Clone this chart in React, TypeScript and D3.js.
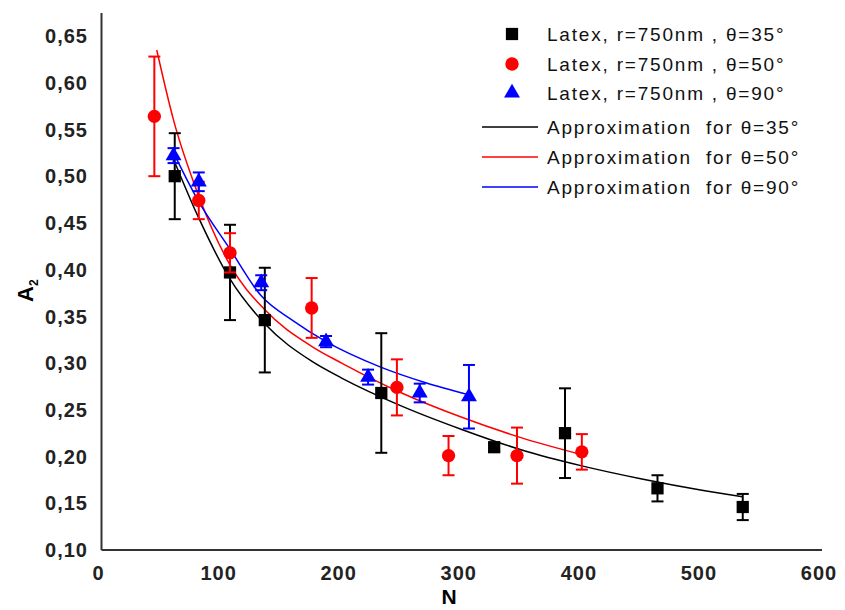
import React, { useEffect, useRef } from "react"
import * as d3 from "d3"

// measured points, theta = 35 / 50 / 90
const blackN = [61, 107, 136, 233, 327, 386, 463, 534]
const blackA = [0.5, 0.397, 0.346, 0.268, 0.21, 0.225, 0.166, 0.146]
const blackErr = [0.046, 0.051, 0.056, 0.064, 0.004, 0.048, 0.014, 0.014]

const redN = [44, 81, 107, 175, 246, 289, 346, 400]
const redA = [0.564, 0.474, 0.418, 0.359, 0.274, 0.201, 0.201, 0.205]
const redErr = [0.064, 0.02, 0.021, 0.032, 0.03, 0.021, 0.03, 0.019]

const blueN = [60, 81, 133, 187, 222, 265, 306]
const blueA = [0.522, 0.494, 0.386, 0.323, 0.285, 0.268, 0.264]
const blueErr = [0.008, 0.01, 0.008, 0.006, 0.008, 0.01, 0.034]

// approximation curves
const fitN35 = [61, 80, 107, 136, 175, 200, 250, 300, 350, 400, 450, 500, 534]
const fitA35 = [0.515, 0.458, 0.39, 0.342, 0.302, 0.284, 0.254, 0.229, 0.207, 0.19, 0.176, 0.164, 0.157]
const fitN50 = [46, 60, 80, 107, 136, 175, 200, 250, 300, 350, 400]
const fitA50 = [0.635, 0.56, 0.482, 0.405, 0.357, 0.318, 0.3, 0.268, 0.242, 0.22, 0.202]
const fitN90 = [60, 80, 107, 133, 160, 187, 232, 270, 306]
const fitA90 = [0.525, 0.475, 0.422, 0.372, 0.345, 0.323, 0.296, 0.279, 0.266]

const xTicks = [0, 100, 200, 300, 400, 500, 600]
const yTicks = [0.1, 0.15, 0.2, 0.25, 0.3, 0.35, 0.4, 0.45, 0.5, 0.55, 0.6, 0.65]

const legendLabels = [
  "Latex, r=750nm , \u03b8=35\u00b0",
  "Latex, r=750nm , \u03b8=50\u00b0",
  "Latex, r=750nm , \u03b8=90\u00b0",
  "Approximation  for \u03b8=35\u00b0",
  "Approximation  for \u03b8=50\u00b0",
  "Approximation  for \u03b8=90\u00b0",
]

const width = 845
const height = 610
const font = "'Liberation Sans', Arial, sans-serif"

export default function App() {
  const ref = useRef<SVGSVGElement>(null)

  useEffect(() => {
    const svg = d3.select(ref.current)
    svg.selectAll("*").remove()

    const x = d3.scaleLinear().domain([0, 600]).range([101.5, 822])
    const y = d3.scaleLinear().domain([0.1, 0.65]).range([550, 36])

    const g = svg.append("g")

    // axes: just two lines, no ticks
    g.append("line")
      .attr("x1", x(0)).attr("x2", x(0))
      .attr("y1", 13).attr("y2", y(0.1))
      .attr("stroke", "#333").attr("stroke-width", 2)
    g.append("line")
      .attr("x1", x(0)).attr("x2", x(600))
      .attr("y1", y(0.1)).attr("y2", y(0.1))
      .attr("stroke", "#333").attr("stroke-width", 2)

    g.selectAll(".ylab")
      .data(yTicks)
      .enter()
      .append("text")
      .attr("x", 88)
      .attr("y", d => y(d))
      .attr("dy", "0.36em")
      .attr("text-anchor", "end")
      .style("font-family", font)
      .style("font-size", "20px")
      .style("font-weight", "bold")
      .style("letter-spacing", "1px")
      .attr("fill", "#222")
      .text(d => d3.format(".2f")(d).replace(".", ","))

    g.selectAll(".xlab")
      .data(xTicks)
      .enter()
      .append("text")
      .attr("x", d => x(d) - 3)
      .attr("y", 573)
      .attr("dy", "0.36em")
      .attr("text-anchor", "middle")
      .style("font-family", font)
      .style("font-size", "20px")
      .style("font-weight", "bold")
      .style("letter-spacing", "1px")
      .attr("fill", "#222")
      .text(d => d)

    g.append("text")
      .attr("x", 449)
      .attr("y", 596)
      .attr("dy", "0.36em")
      .attr("text-anchor", "middle")
      .style("font-family", font)
      .style("font-size", "21px")
      .style("font-weight", "bold")
      .text("N")

    const yt = g.append("text")
      .attr("transform", "translate(33,302) rotate(-90)")
      .attr("text-anchor", "start")
      .style("font-family", font)
      .style("font-size", "22px")
      .style("font-weight", "bold")
    yt.append("tspan").text("A")
    yt.append("tspan").attr("dy", 5).style("font-size", "12px").text("2")

    const line = d3
      .line<[number, number]>()
      .x(d => x(d[0]))
      .y(d => y(d[1]))
      .curve(d3.curveMonotoneX)

    const fits = [
      { n: fitN35, a: fitA35, color: "#000000" },
      { n: fitN50, a: fitA50, color: "#ff0000" },
      { n: fitN90, a: fitA90, color: "#0000ff" },
    ]
    fits.forEach(f => {
      g.append("path")
        .attr("d", line(f.n.map((v, i) => [v, f.a[i]] as [number, number])))
        .attr("fill", "none")
        .attr("stroke", f.color)
        .attr("stroke-width", 1.5)
    })

    const series = [
      { n: blackN, a: blackA, e: blackErr, color: "#000000", shape: "square" },
      { n: redN, a: redA, e: redErr, color: "#ff0000", shape: "circle" },
      { n: blueN, a: blueA, e: blueErr, color: "#0000ff", shape: "triangle" },
    ]

    const symbol = (shape: string) => {
      if (shape === "square") return d3.symbol().type(d3.symbolSquare).size(150)()
      if (shape === "circle") return d3.symbol().type(d3.symbolCircle).size(140)()
      return d3.symbol().type(d3.symbolTriangle).size(110)()
    }

    series.forEach(s => {
      const sg = g.append("g")
      s.n.forEach((v, i) => {
        const cx = x(v)
        const top = y(s.a[i] + s.e[i])
        const bot = y(s.a[i] - s.e[i])
        sg.append("line")
          .attr("x1", cx).attr("x2", cx).attr("y1", top).attr("y2", bot)
          .attr("stroke", s.color).attr("stroke-width", 2)
        ;[top, bot].forEach(yy => {
          sg.append("line")
            .attr("x1", cx - 6).attr("x2", cx + 6).attr("y1", yy).attr("y2", yy)
            .attr("stroke", s.color).attr("stroke-width", 2)
        })
        sg.append("path")
          .attr("d", symbol(s.shape))
          .attr("transform", "translate(" + cx + "," + y(s.a[i]) + ")")
          .attr("fill", s.color)
      })
    })

    // legend
    const legendY = [34, 64, 93, 127, 157, 187]
    const leg = g.append("g")
    series.forEach((s, i) => {
      leg.append("path")
        .attr("d", symbol(s.shape))
        .attr("transform", "translate(512," + legendY[i] + ")")
        .attr("fill", s.color)
    })
    fits.forEach((f, i) => {
      leg.append("line")
        .attr("x1", 482).attr("x2", 538)
        .attr("y1", legendY[i + 3]).attr("y2", legendY[i + 3])
        .attr("stroke", f.color).attr("stroke-width", 1.5)
    })
    leg.selectAll("text")
      .data(legendLabels)
      .enter()
      .append("text")
      .attr("x", 547)
      .attr("y", (d, i) => legendY[i])
      .attr("dy", "0.36em")
      .style("font-family", font)
      .style("font-size", "19px")
      .style("letter-spacing", "1.8px")
      .style("white-space", "pre")
      .attr("fill", "#111")
      .text(d => d)
  }, [])

  return (
    <svg
      ref={ref}
      width={width}
      height={height}
      style={{ position: "absolute", left: 0, top: 0, background: "#fff" }}
    />
  )
}
